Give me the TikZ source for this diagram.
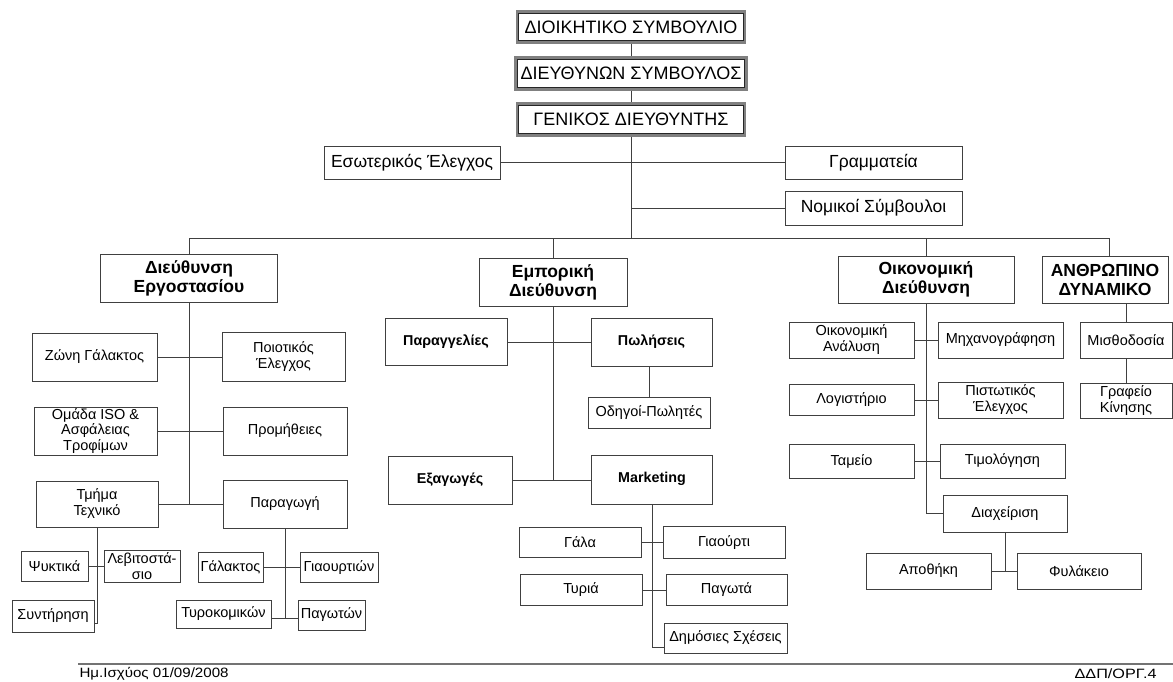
\documentclass[tikz,border=0pt]{standalone}
\usepackage{fontspec}
\usepackage{graphicx}
\setmainfont{Liberation Sans}
\begin{document}
\begin{tikzpicture}[x=1pt,y=-1pt,
  line width=1pt, draw=black!75,
  every node/.style={inner sep=0pt, align=center},
  box/.style={draw=black!75, line width=1pt},
  topbox/.style={draw=black!50, line width=2.6pt, font=\fontsize{18}{20}\selectfont},
  midbox/.style={box, font=\fontsize{17.5}{19}\selectfont},
  deptbox/.style={box, font=\bfseries\fontsize{17.5}{19}\selectfont},
  subbox/.style={box, font=\fontsize{14.5}{16}\selectfont},
  subbold/.style={box, font=\bfseries\fontsize{14.3}{16}\selectfont},
  conn/.style={draw=black!75, line width=1pt},
  foot/.style={font=\fontsize{13.5}{15}\selectfont}
]
\useasboundingbox (0,0) rectangle (1173,681);

% top
\node[topbox, minimum width=228pt, minimum height=31pt] (dsb) at (631,27) {ΔΙΟΙΚΗΤΙΚΟ ΣΥΜΒΟΥΛΙΟ};
\node[topbox, minimum width=231pt, minimum height=32pt] (ds) at (631,73.5) {ΔΙΕΥΘΥΝΩΝ ΣΥΜΒΟΥΛΟΣ};
\node[topbox, minimum width=228pt, minimum height=32pt] (gd) at (631,119.5) {ΓΕΝΙΚΟΣ ΔΙΕΥΘΥΝΤΗΣ};
\foreach \n in {dsb,ds,gd}{
  \draw[black!85, line width=0.8pt] ([shift={(3pt,3pt)}]\n.south west) rectangle ([shift={(-3pt,-3pt)}]\n.north east);
}

\node[midbox, minimum width=176pt, minimum height=33pt] (ese) at (412,162.5) {Εσωτερικός Έλεγχος};
\node[midbox, minimum width=177pt, minimum height=33pt] (gram) at (873.5,162.5) {Γραμματεία};
\node[midbox, minimum width=177pt, minimum height=34pt] (nom) at (873.5,208) {Νομικοί Σύμβουλοι};

\coordinate (busL) at (189,238);
\coordinate (busR) at (1109,238);

% departments
\node[deptbox, minimum width=177pt, minimum height=48pt] (de) at (189,278) {Διεύθυνση\\Εργοστασίου};
\node[deptbox, minimum width=148pt, minimum height=48pt] (ed) at (553,282) {Εμπορική\\Διεύθυνση};
\node[deptbox, minimum width=176pt, minimum height=47pt] (od) at (926,279.5) {Οικονομική\\Διεύθυνση};
\node[deptbox, minimum width=126pt, minimum height=47pt] (ad) at (1105,279.5) {ΑΝΘΡΩΠΙΝΟ\\ΔΥΝΑΜΙΚΟ};

% factory
\node[subbox, minimum width=125pt, minimum height=48pt] (zg) at (94.5,357) {Ζώνη Γάλακτος};
\node[subbox, minimum width=123pt, minimum height=49pt] (pe) at (283.5,357) {Ποιοτικός\\Έλεγχος};
\node[subbox, minimum width=123pt, minimum height=48pt, font=\fontsize{14.5}{15.5}\selectfont] (iso) at (95.5,431) {Ομάδα ISO \&\\Ασφάλειας\\Τροφίμων};
\node[subbox, minimum width=124pt, minimum height=48pt] (prom) at (285,431) {Προμήθειες};
\node[subbox, minimum width=122pt, minimum height=46pt] (tt) at (97,504) {Τμήμα\\Τεχνικό};
\node[subbox, minimum width=124pt, minimum height=48pt] (par) at (285,504) {Παραγωγή};

\node[subbox, minimum width=67pt, minimum height=30pt] (psy) at (54.5,566) {Ψυκτικά};
\node[subbox, minimum width=76pt, minimum height=32pt] (leb) at (142,566) {Λεβιτοστά-\\σιο};
\node[subbox, minimum width=82pt, minimum height=32pt] (syn) at (53,616) {Συντήρηση};
\coordinate (tth) at (97,623);

\node[subbox, minimum width=65pt, minimum height=30pt] (gal) at (230.5,567.5) {Γάλακτος};
\node[subbox, minimum width=78pt, minimum height=30pt] (gia) at (339,567.5) {Γιαουρτιών};
\node[subbox, minimum width=95pt, minimum height=28pt] (tyr) at (223.5,614) {Τυροκομικών};
\node[subbox, minimum width=67pt, minimum height=30pt] (pag) at (331.5,615) {Παγωτών};
\coordinate (pah) at (285,618);

% commercial
\node[subbold, minimum width=122pt, minimum height=47pt] (parg) at (446,342) {Παραγγελίες};
\node[subbold, minimum width=121pt, minimum height=48pt] (pol) at (651.5,342) {Πωλήσεις};
\node[subbox, minimum width=122pt, minimum height=31pt] (odi) at (649,412.5) {Οδηγοί-Πωλητές};
\node[subbold, minimum width=124pt, minimum height=48pt] (exa) at (450,480) {Εξαγωγές};
\node[subbold, minimum width=121pt, minimum height=49pt] (mkt) at (652,480) {\raisebox{5pt}{Marketing}};
\coordinate (mkh) at (652,647);

\node[subbox, minimum width=122pt, minimum height=30pt] (gala) at (580,542.5) {Γάλα};
\node[subbox, minimum width=122pt, minimum height=32pt] (giao) at (724,542.5) {Γιαούρτι};
\node[subbox, minimum width=122pt, minimum height=31pt] (tyri) at (581,590) {Τυριά};
\node[subbox, minimum width=121pt, minimum height=31pt] (pagw) at (726.5,590) {Παγωτά};
\node[subbox, minimum width=123pt, minimum height=30pt] (dim) at (725.5,638) {Δημόσιες Σχέσεις};

% finance
\node[subbox, minimum width=125pt, minimum height=36pt] (oan) at (851.5,340) {Οικονομική\\Ανάλυση};
\node[subbox, minimum width=125pt, minimum height=36pt] (mix) at (1000.5,340) {Μηχανογράφηση};
\node[subbox, minimum width=125pt, minimum height=31pt] (log) at (851.5,400) {Λογιστήριο};
\node[subbox, minimum width=125pt, minimum height=36pt] (pis) at (1000.5,400) {Πιστωτικός\\Έλεγχος};
\node[subbox, minimum width=125pt, minimum height=34pt] (tam) at (851.5,461) {Ταμείο};
\node[subbox, minimum width=125pt, minimum height=34pt] (tim) at (1002.5,461) {Τιμολόγηση};
\node[subbox, minimum width=124pt, minimum height=37pt] (dia) at (1005,513.5) {Διαχείριση};
\node[subbox, minimum width=125pt, minimum height=36pt] (apo) at (928.5,571) {Αποθήκη};
\node[subbox, minimum width=124pt, minimum height=36pt] (fyl) at (1079,571) {Φυλάκειο};

% HR
\node[subbox, minimum width=92pt, minimum height=36pt] (mis) at (1126,340) {Μισθοδοσία};
\node[subbox, minimum width=92pt, minimum height=35pt] (gk) at (1126,400.5) {Γραφείο\\Κίνησης};

% connectors top
\draw[conn] (dsb.south) -- (ds.north);
\draw[conn] (ds.south) -- (gd.north);
\draw[conn] (gd.south) -- (gd.south |- busL);
\draw[conn] (ese.east) -- (gram.west);
\draw[conn] (nom.west) -- (nom.west -| gd.south);
\draw[conn] (busL) -- (busR);
\draw[conn] (de.north) -- (de.north |- busL);
\draw[conn] (ed.north) -- (ed.north |- busL);
\draw[conn] (od.north) -- (od.north |- busL);
\draw[conn] (busR) -- (busR |- ad.north);

% factory connectors
\draw[conn] (de.south) -- (de.south |- tt.east);
\draw[conn] (zg.east) -- (pe.west);
\draw[conn] (iso.east) -- (prom.west);
\draw[conn] (tt.east) -- (par.west);
\draw[conn] (tt.south) -- (tth) -- (tth -| syn.east);
\draw[conn] (psy.east) -- (leb.west);
\draw[conn] (par.south) -- (pah);
\draw[conn] (gal.east) -- (gia.west);
\draw[conn] (tyr.east |- pah) -- (pag.west |- pah);

% commercial connectors
\draw[conn] (ed.south) -- (ed.south |- exa.east);
\draw[conn] (parg.east) -- (pol.west);
\draw[conn] (odi.north |- pol.south) -- (odi.north);
\draw[conn] (exa.east) -- (mkt.west);
\draw[conn] (mkt.south) -- (mkh) -- (mkh -| dim.west);
\draw[conn] (gala.east) -- (giao.west);
\draw[conn] (tyri.east) -- (pagw.west);

% finance connectors
\draw[conn] (od.south) |- (dia.west);
\draw[conn] (oan.east) -- (mix.west);
\draw[conn] (log.east) -- (pis.west);
\draw[conn] (tam.east) -- (tim.west);
\draw[conn] (dia.south) -- (dia.south |- apo.east);
\draw[conn] (apo.east) -- (fyl.west);

% HR connectors
\draw[conn] (mis.north |- ad.south) -- (mis.north);
\draw[conn] (mis.south) -- (gk.north);

% footer
\coordinate (fl) at (78,664);
\coordinate (fr) at (1173,664);
\draw[black!55, line width=1.6pt] (fl) -- (fr);
\node[anchor=west, foot] (date) at (79,673.5) {\scalebox{1.12}[1]{Ημ.Ισχύος 01/09/2008}};
\node[anchor=east, foot] (code) at (1157,673.5) {\scalebox{1.2}[1]{ΔΔΠ/ΟΡΓ.4}};
\end{tikzpicture}
\end{document}
